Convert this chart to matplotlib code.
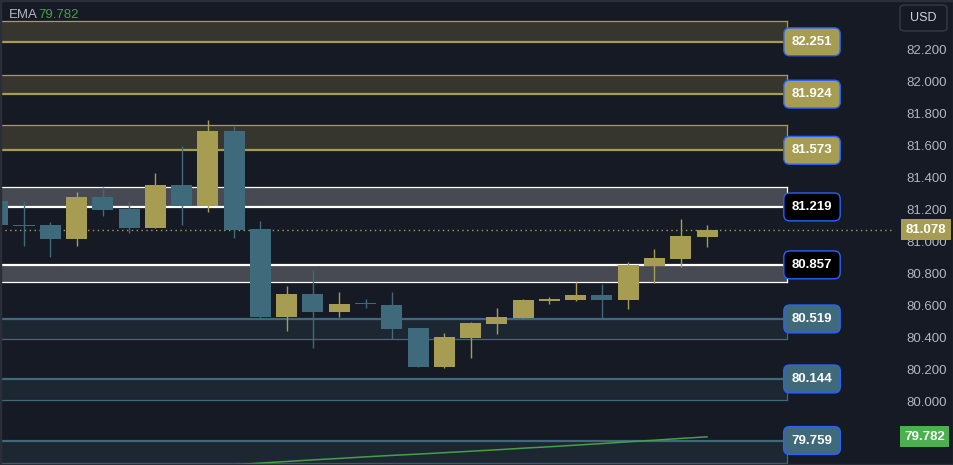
import matplotlib
matplotlib.use('Agg')
import matplotlib.pyplot as plt
import numpy as np
from matplotlib.patches import FancyBboxPatch

plt.rcParams['font.family'] = ['Liberation Sans', 'DejaVu Sans']

# OHLC (oldest first)
opens = [81.256, 81.108, 81.106, 81.019, 81.281, 81.206, 81.088, 81.356, 81.225, 81.694,
         81.081, 80.531, 80.675, 80.563, 80.615, 80.606, 80.463, 80.219, 80.400, 80.488,
         80.525, 80.631, 80.638, 80.669, 80.638, 80.850, 80.894, 81.031]
highs = [81.280, 81.256, 81.125, 81.313, 81.344, 81.256, 81.431, 81.600, 81.763, 81.725,
         81.131, 80.725, 80.825, 80.688, 80.644, 80.688, 80.463, 80.431, 80.500, 80.588,
         80.644, 80.656, 80.750, 80.738, 80.875, 80.956, 81.144, 81.106]
lows = [81.090, 80.975, 80.906, 80.975, 81.163, 81.056, 81.088, 81.106, 81.188, 81.025,
        80.525, 80.444, 80.338, 80.531, 80.588, 80.394, 80.219, 80.213, 80.275, 80.425,
        80.525, 80.613, 80.631, 80.525, 80.581, 80.744, 80.844, 80.969]
closes = [81.106, 81.100, 81.019, 81.281, 81.200, 81.088, 81.356, 81.225, 81.694, 81.075,
          80.531, 80.675, 80.563, 80.613, 80.610, 80.456, 80.219, 80.406, 80.494, 80.531,
          80.638, 80.644, 80.669, 80.638, 80.856, 80.900, 81.038, 81.078]

# EMA from candle 8 onward
ema_start = 8
ema_vals = [79.595, 79.607, 79.618, 79.628, 79.638, 79.647, 79.657, 79.666, 79.674, 79.683,
            79.692, 79.701, 79.711, 79.720, 79.730, 79.740, 79.751, 79.761, 79.772, 79.782]

# zones: (label price, other edge, kind)
zone_labels = [82.251, 81.924, 81.573, 81.219, 80.857, 80.519, 80.144, 79.759]
zone_other = [82.381, 82.044, 81.731, 81.344, 80.750, 80.394, 80.013, 79.620]
zone_kind = ['sell', 'sell', 'sell', 'mid', 'mid', 'buy', 'buy', 'buy']

last_price = 81.078
ema_last = 79.782
y_ticks = [80.0, 80.2, 80.4, 80.6, 80.8, 81.0, 81.2, 81.4, 81.6, 81.8, 82.0, 82.2]

BG = '#161a25'
UP = '#a69d52'
DOWN = '#3f6a7c'
ZONE = {
    'sell': dict(fill='#36362f', edge='#a69d52', label='#a69d52'),
    'mid': dict(fill='#474a53', edge='#ffffff', label='#000000'),
    'buy': dict(fill='#1c2732', edge='#3f6a7c', label='#3f6a7c'),
}

W, H = 954, 465
YLIM = (79.606, 82.5125)
fig = plt.figure(figsize=(W / 100, H / 100), dpi=100)
fig.patch.set_facecolor(BG)

axw = 895 / W
ax = fig.add_axes([0, 0, axw, 1])
ax.set_facecolor(BG)
for s in ax.spines.values():
    s.set_visible(False)
ax.set_xticks([])
ax.set_yticks([])

n = len(opens)
idx = np.arange(n)
x0 = 1 - 24 / 26.27
ax.set_xlim(x0, x0 + 895 / 26.27)
ax.set_ylim(*YLIM)

zone_end = 787 / 895
ytr = ax.get_yaxis_transform()
for lab, oth, kind in zip(zone_labels, zone_other, zone_kind):
    c = ZONE[kind]
    lo, hi = min(lab, oth), max(lab, oth)
    ax.axhspan(lo, hi, xmin=0, xmax=zone_end, facecolor=c['fill'], edgecolor='none', zorder=1)
    ax.plot([0, zone_end], [lab, lab], transform=ytr, color=c['edge'], lw=1.6, zorder=2)
    ax.plot([0, zone_end], [oth, oth], transform=ytr, color=c['edge'], lw=0.9, zorder=2)
    ax.plot([zone_end, zone_end], [lo, hi], transform=ytr, color=c['edge'], lw=0.9, zorder=2)
    ax.text(812 / 895, lab, f'{lab:.3f}', transform=ytr, ha='center', va='center',
            color='white', fontsize=9.5, fontweight='bold', zorder=6,
            bbox=dict(boxstyle='round,pad=0.6,rounding_size=0.45', facecolor=c['label'],
                      edgecolor='#2962ff', linewidth=1.0))

# last price dotted line
ax.axhline(last_price, color=UP, lw=1, linestyle=(0, (1, 2.5)), zorder=3)

# EMA
ax.plot(idx[ema_start:], ema_vals, color='#43a047', lw=1.1, zorder=4)

# candles
o = np.array(opens)
c_ = np.array(closes)
cols = [UP if cc >= oo else DOWN for oo, cc in zip(o, c_)]
ax.vlines(idx, lows, highs, colors=cols, lw=1, zorder=4)
body_lo = np.minimum(o, c_)
body_h = np.maximum(np.abs(c_ - o), 0.006)
ax.bar(idx, body_h, bottom=body_lo, width=0.8, color=cols, zorder=5)

# EMA legend
fig.text(9 / W, 1 - 15 / H, 'EMA', color='#b2b5be', fontsize=9.5, va='center')
fig.text(38 / W, 1 - 15 / H, f'{ema_last:.3f}', color='#43a047', fontsize=9.5, va='center')

# price scale
ax2 = fig.add_axes([axw, 0, 1 - axw, 1])
ax2.set_facecolor(BG)
for s in ax2.spines.values():
    s.set_visible(False)
ax2.set_xticks([])
ax2.set_ylim(*YLIM)
ax2.set_yticks(y_ticks)
ax2.set_yticklabels([f'{v:.3f}' for v in y_ticks])
ax2.tick_params(axis='y', length=0, pad=-8, labelsize=9.5, labelcolor='#b2b5be')
plt.setp(ax2.get_yticklabels(), ha='left')
ytr2 = ax2.get_yaxis_transform()
ax2.text(0.52, last_price, f'{last_price:.3f}', transform=ytr2, ha='center', va='center',
         color='white', fontsize=9.5, fontweight='bold', zorder=6,
         bbox=dict(boxstyle='square,pad=0.35', facecolor=UP, edgecolor='none'))
ax2.text(0.5, ema_last, f'{ema_last:.3f}', transform=ytr2, ha='center', va='center',
         color='white', fontsize=9.5, fontweight='bold', zorder=6,
         bbox=dict(boxstyle='square,pad=0.35', facecolor='#4caf50', edgecolor='none'))

# USD button
fig.patches.append(FancyBboxPatch((900 / W, 1 - 31 / H), 47 / W, 26 / H,
                                  boxstyle='round,pad=0,rounding_size=0.006',
                                  transform=fig.transFigure, facecolor=BG,
                                  edgecolor='#363a45', linewidth=1))
fig.text(923.5 / W, 1 - 18 / H, 'USD', color='#d1d4dc', fontsize=9, ha='center', va='center')

# thin frame
fig.patches.append(plt.Rectangle((0, 0), 1, 1, transform=fig.transFigure, fill=False,
                                 edgecolor='#2a2e39', linewidth=2.5))

fig.savefig('out.png', dpi=100, facecolor=BG)
